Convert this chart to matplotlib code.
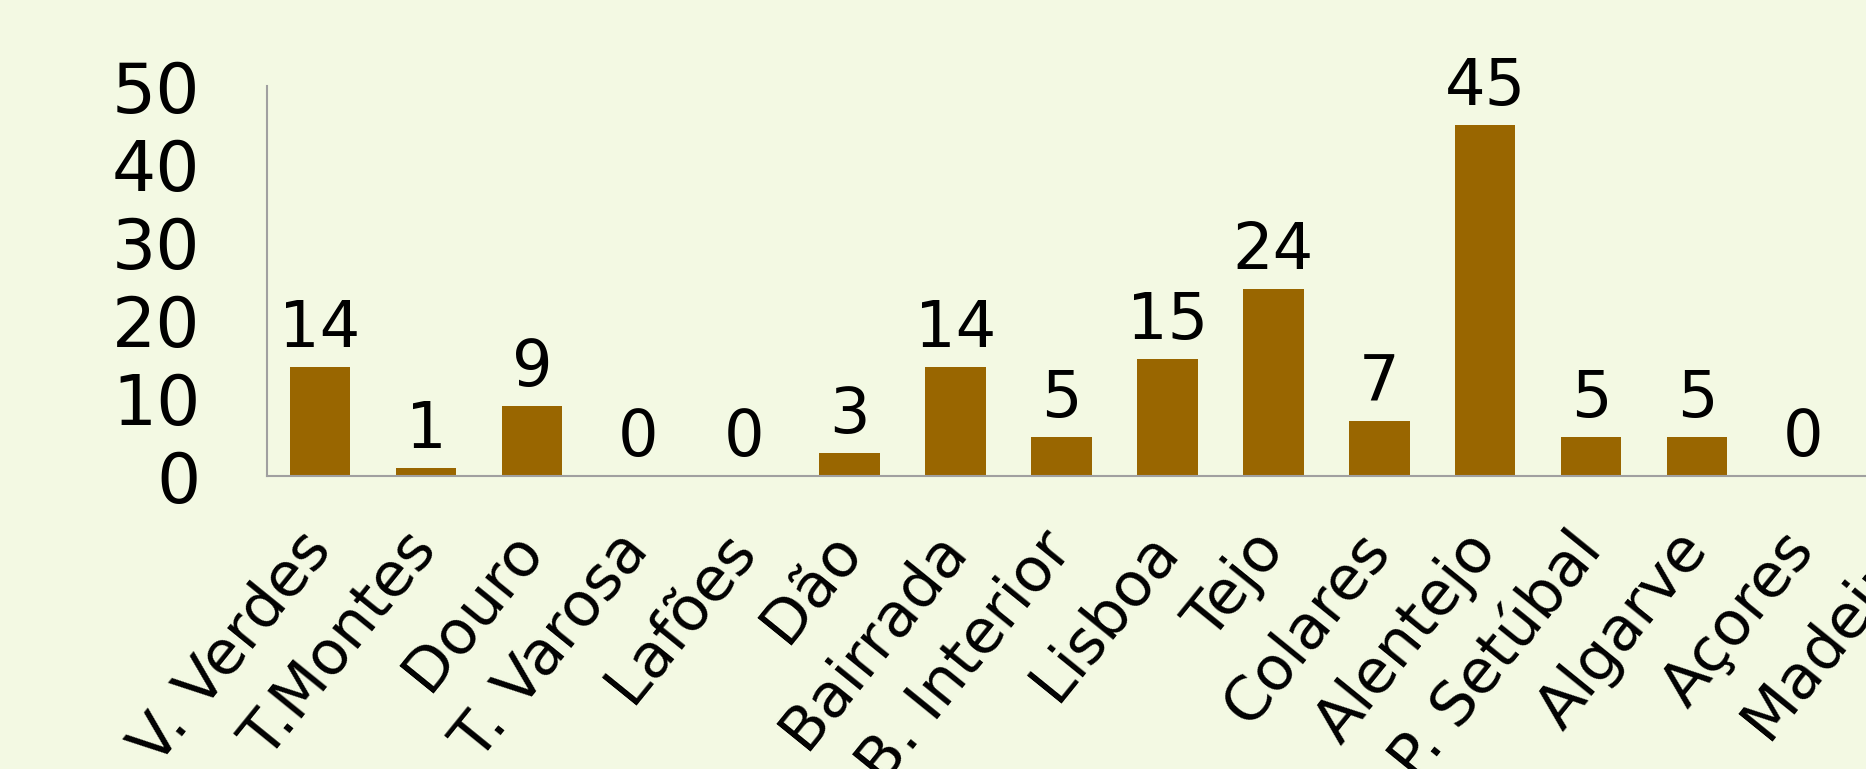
import matplotlib.pyplot as plt
import numpy as np

# categories and values (Madeira is cut off at the right edge)
regions = ['V. Verdes', 'T.Montes', 'Douro', 'T. Varosa', 'Lafões', 'Dão',
           'Bairrada', 'B. Interior', 'Lisboa', 'Tejo', 'Colares', 'Alentejo',
           'P. Setúbal', 'Algarve', 'Açores', 'Madeira']
counts = [14, 1, 9, 0, 0, 3, 14, 5, 15, 24, 7, 45, 5, 5, 0, 0]
yticks = [0, 10, 20, 30, 40, 50]

bg = '#F3F9E3'
bar_col = '#996600'

fig = plt.figure(figsize=(18.66, 7.69), dpi=100, facecolor=bg)
# axes runs past the right edge of the picture, like the original crop
ax = fig.add_axes([267 / 1866, 1 - 476 / 769, (1962 - 267) / 1866, (476 - 86) / 769])
ax.set_facecolor(bg)

x = np.arange(len(regions))
bars = ax.bar(x, counts, width=0.57, color=bar_col)
# Madeira's value label falls outside the picture
labels = [str(v) for v in counts[:-1]] + ['']
ax.bar_label(bars, labels=labels, padding=5, fontsize=46)

ax.set_xlim(-0.5, len(regions) - 0.5)
ax.set_ylim(0, 50)
ax.set_yticks(yticks)
ax.set_yticklabels([str(v) for v in yticks], fontsize=50)
ax.tick_params(axis='y', length=0, pad=48)
ax.set_xticks(x)
ax.set_xticklabels(regions, fontsize=44, rotation=51, ha='right',
                   rotation_mode='anchor', va='center')
ax.tick_params(axis='x', length=0, pad=46)

for side in ['top', 'right']:
    ax.spines[side].set_visible(False)
for side in ['left', 'bottom']:
    ax.spines[side].set_color('#A0A0A0')
    ax.spines[side].set_linewidth(1.5)

fig.savefig('out.png', dpi=100, facecolor=bg)
